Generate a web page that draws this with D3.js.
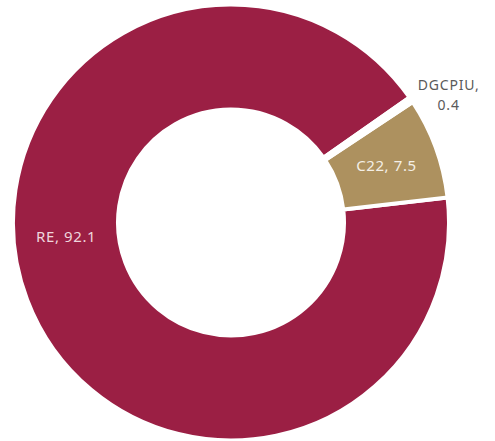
<!DOCTYPE html>
<html>
<head>
<meta charset="utf-8">
<script src="https://cdn.jsdelivr.net/npm/d3@7"></script>
<style>
  body { margin: 0; background: #fff; }
  text { font-family: "Noto Sans", "Open Sans", sans-serif; }
</style>
</head>
<body>
<div id="chart"></div>
<script>
// slice data, drawn counter-clockwise in this order
var categories = ["RE", "C22", "DGCPIU"];
var values = [92.1, 7.5, 0.4];
var colors = ["#9b1f44", "#ad915f", "#ffffff"];

var width = 495, height = 441;
var cx = 231, cy = 222.5;
var outerR = 218, innerR = 113;

var svg = d3.select("#chart").append("svg")
    .attr("width", width)
    .attr("height", height);

var g = svg.append("g")
    .attr("transform", "translate(" + cx + "," + cy + ")");

var data = categories.map(function(c, i) { return { name: c, value: values[i], color: colors[i] }; });

// start near 2 o'clock, go counter-clockwise
var start = 55 * Math.PI / 180;
var pie = d3.pie()
    .sort(null)
    .value(function(d) { return d.value; })
    .startAngle(start + 2 * Math.PI)
    .endAngle(start);

var arcs = pie(data);

var arc = d3.arc()
    .innerRadius(innerR)
    .outerRadius(outerR);

g.selectAll(".slice")
    .data(arcs)
    .enter().append("path")
    .attr("class", "slice")
    .attr("d", arc)
    .style("fill", function(d) { return d.data.color; })
    .style("stroke", "#fff")
    .style("stroke-width", 4);

function midAngle(d) { return (d.startAngle + d.endAngle) / 2; }

// inside labels
var midR = (innerR + outerR) / 2;
g.selectAll(".inlabel")
    .data(arcs.filter(function(d) { return d.data.name != "DGCPIU"; }))
    .enter().append("text")
    .attr("class", "inlabel")
    .attr("x", function(d) {
        // the big slice label sits just below the left side
        var a = d.data.name == "RE" ? 265 * Math.PI / 180 : midAngle(d);
        return midR * Math.sin(a);
    })
    .attr("y", function(d) {
        var a = d.data.name == "RE" ? 265 * Math.PI / 180 : midAngle(d);
        return -midR * Math.cos(a);
    })
    .attr("dy", "0.35em")
    .style("text-anchor", "middle")
    .style("font-size", "15px")
    .style("letter-spacing", "0.6px")
    .style("fill", function(d) { return d.data.name == "RE" ? "#efd6dd" : "#f4efe6"; })
    .text(function(d) { return d.data.name + ", " + d.data.value; });

// outside label for the tiny slice, two lines
var small = arcs.filter(function(d) { return d.data.name == "DGCPIU"; })[0];
var la = midAngle(small) + 4 * Math.PI / 180;
var lr = outerR + 34;
var lx = lr * Math.sin(la), ly = -lr * Math.cos(la);
g.selectAll(".outlabel")
    .data([small.data.name + ",", small.data.value])
    .enter().append("text")
    .attr("class", "outlabel")
    .attr("x", lx)
    .attr("y", function(d, i) { return ly - 5 + i * 19.5; })
    .style("text-anchor", "middle")
    .style("font-size", "14px")
    .style("letter-spacing", "0.8px")
    .style("fill", "#5a5a5a")
    .text(function(d) { return d; });
</script>
</body>
</html>
